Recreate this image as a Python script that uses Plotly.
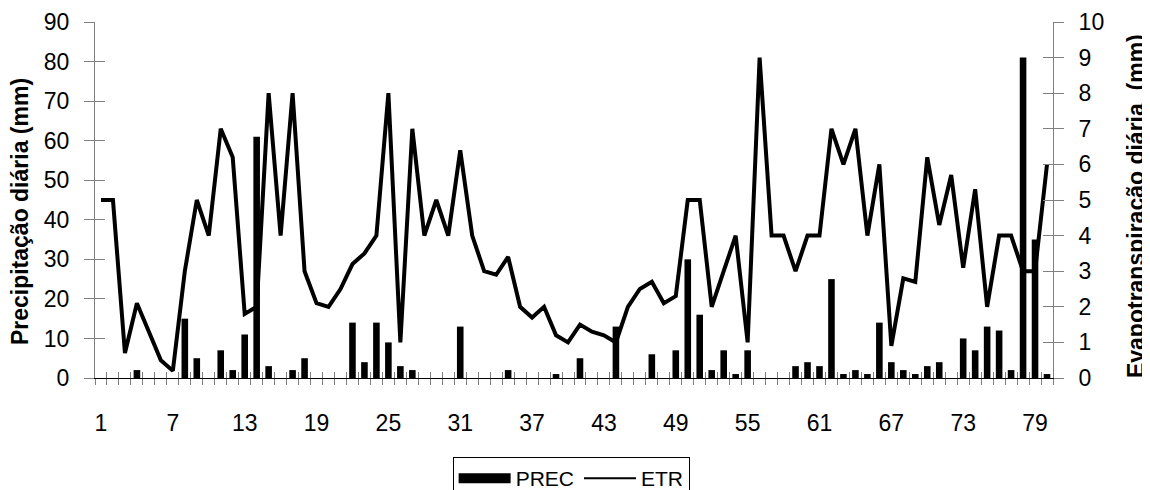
import plotly.graph_objects as go

days = list(range(1, 81))

prec = [0, 0, 0, 2, 0, 0, 0, 15, 5, 0,
        7, 2, 11, 61, 3, 0, 2, 5, 0, 0,
        0, 14, 4, 14, 9, 3, 2, 0, 0, 0,
        13, 0, 0, 0, 2, 0, 0, 0, 1, 0,
        5, 0, 0, 13, 0, 0, 6, 0, 7, 30,
        16, 2, 7, 1, 7, 0, 0, 0, 3, 4,
        3, 25, 1, 2, 1, 14, 4, 2, 1, 3,
        4, 0, 10, 7, 13, 12, 2, 81, 35, 1]

etr = [5, 5, 0.7, 2.1, 1.3, 0.5, 0.2, 3, 5, 4,
       7, 6.2, 1.8, 2, 8, 4, 8, 3, 2.1, 2,
       2.5, 3.2, 3.5, 4, 8, 1, 7, 4, 5, 4,
       6.4, 4, 3, 2.9, 3.4, 2, 1.7, 2, 1.2, 1,
       1.5, 1.3, 1.2, 1, 2, 2.5, 2.7, 2.1, 2.3, 5,
       5, 2, 3, 4, 1, 9, 4, 4, 3, 4,
       4, 7, 6, 7, 4, 6, 0.9, 2.8, 2.7, 6.2,
       4.3, 5.7, 3.1, 5.3, 2, 4, 4, 3, 3, 6]

label_days = list(range(1, 81, 6))
boundaries = [d - 0.5 for d in range(1, 82)]
left_ticks = list(range(0, 91, 10))
right_ticks = list(range(0, 11, 1))

FONT = "Liberation Sans, Arial, sans-serif"
GRAY = "#808080"

fig = go.Figure()
fig.add_trace(go.Bar(x=days, y=prec, name="PREC", marker=dict(color="black", line=dict(width=0)),
                     xaxis="x", yaxis="y", showlegend=False))
fig.add_trace(go.Scatter(x=days, y=etr, name="ETR", mode="lines",
                         line=dict(color="black", width=4), xaxis="x", yaxis="y2", showlegend=False))
# legend entries (wide bar swatch and thin line, as in the original legend)
fig.add_trace(go.Scatter(x=[None], y=[None], name="PREC", mode="lines",
                         line=dict(color="black", width=12), xaxis="x", yaxis="y"))
fig.add_trace(go.Scatter(x=[None], y=[None], name="ETR", mode="lines",
                         line=dict(color="black", width=2), xaxis="x", yaxis="y2"))
# helper traces so the tick-mark axes are drawn
fig.add_trace(go.Scatter(x=[None], y=[None], xaxis="x2", yaxis="y3", showlegend=False, hoverinfo="skip"))
fig.add_trace(go.Scatter(x=[None], y=[None], xaxis="x3", yaxis="y4", showlegend=False, hoverinfo="skip"))

xr = [0.5, 80.5]
common = dict(automargin=False, showgrid=False, zeroline=False)
fig.update_layout(
    width=1142, height=482,
    margin=dict(l=87, r=97, t=14, b=112, autoexpand=False),
    paper_bgcolor="white", plot_bgcolor="white",
    font=dict(family=FONT, color="black", size=20),
    bargap=0.45,
    showlegend=True,
    legend=dict(orientation="h", x=0.497, xanchor="center", y=-0.222, yanchor="top",
                bordercolor="black", borderwidth=1, font=dict(size=21, family=FONT),
                itemwidth=52, tracegroupgap=0),
    xaxis=dict(range=xr, tickmode="array", tickvals=label_days, ticktext=[str(d) for d in label_days],
               ticks="outside", ticklen=24, tickcolor="rgba(0,0,0,0)", showline=True, linecolor="black",
               linewidth=1, tickfont=dict(size=23), **common),
    xaxis2=dict(range=xr, overlaying="x", anchor="y", side="bottom", tickmode="array", tickvals=boundaries,
                ticks="outside", ticklen=6, tickcolor=GRAY, showticklabels=False, showline=False, **common),
    xaxis3=dict(range=xr, overlaying="x", anchor="y", side="bottom", tickmode="array", tickvals=boundaries,
                ticks="inside", ticklen=6, tickcolor=GRAY, showticklabels=False, showline=False, **common),
    yaxis=dict(range=[0, 90], tickmode="array", tickvals=left_ticks, ticks="outside", ticklen=10,
               tickcolor=GRAY, showline=True, linecolor=GRAY, linewidth=1,
               ticklabelstandoff=10, tickfont=dict(size=23), **common),
    yaxis2=dict(range=[0, 10], overlaying="y", side="right", anchor="x", tickmode="array",
                tickvals=right_ticks, ticks="outside", ticklen=10, tickcolor=GRAY, showline=True,
                linecolor=GRAY, linewidth=1, ticklabelstandoff=10, tickfont=dict(size=23), **common),
    yaxis3=dict(range=[0, 90], overlaying="y", side="left", anchor="x", tickmode="array",
                tickvals=left_ticks, ticks="inside", ticklen=10, tickcolor=GRAY, showticklabels=False,
                showline=False, **common),
    yaxis4=dict(range=[0, 10], overlaying="y", side="right", anchor="x", tickmode="array",
                tickvals=right_ticks, ticks="inside", ticklen=10, tickcolor=GRAY, showticklabels=False,
                showline=False, **common),
    annotations=[
        dict(text="<b>Precipitação diária (mm)</b>", xref="paper", yref="paper", x=0, y=0.466,
             xshift=-75, textangle=-90, showarrow=False, font=dict(size=23, family=FONT),
             xanchor="center", yanchor="middle"),
        dict(text="<b>Evapotranspiração diária  (mm)</b>", xref="paper", yref="paper", x=1, y=0.483,
             xshift=83, textangle=-90, showarrow=False, font=dict(size=23, family=FONT),
             xanchor="center", yanchor="middle"),
    ],
)

fig.write_html("out.html")
